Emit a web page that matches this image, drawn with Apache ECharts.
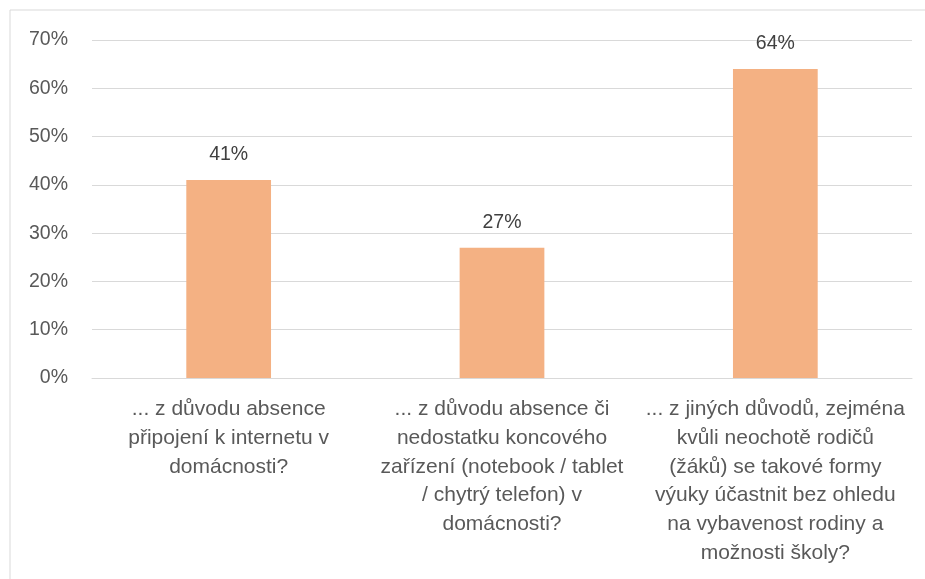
<!DOCTYPE html>
<html>
<head>
<meta charset="utf-8">
<script src="https://cdn.jsdelivr.net/npm/echarts@6/dist/echarts.min.js"></script>
<style>
html,body{margin:0;padding:0;background:#fff;}
#chart{width:925px;height:579px;}
</style>
</head>
<body>
<div id="chart"></div>
<script>
// kategorie (důvody) - zalomení řádků podle originálu
var categories = [
	"... z důvodu absence\npřipojení k internetu v\ndomácnosti?",
	"... z důvodu absence či\nnedostatku koncového\nzařízení (notebook / tablet\n/ chytrý telefon) v\ndomácnosti?",
	"... z jiných důvodů, zejména\nkvůli neochotě rodičů\n(žáků) se takové formy\nvýuky účastnit bez ohledu\nna vybavenost rodiny a\nmožnosti školy?"
];
// podíly v procentech
var values = [41, 27, 64];
// popisky osy Y
var yTicks = [0, 10, 20, 30, 40, 50, 60, 70];

var myChart = echarts.init(document.getElementById("chart"));
var font = "'Liberation Sans', Arial, sans-serif";

var option = {
	animation: false,
	graphic: [{
		type: "rect",
		shape: {x: 10, y: 10, width: 930, height: 590},
		style: {fill: "none", stroke: "#d9d9d9", lineWidth: 1}
	}],
	grid: {left: 92, right: 13, top: 40, bottom: 201, containLabel: false},
	xAxis: {
		type: "category",
		data: categories,
		axisLine: {show: true, lineStyle: {color: "#d9d9d9"}},
		axisTick: {show: false},
		axisLabel: {
			interval: 0,
			margin: 17,
			color: "#595959",
			fontFamily: font,
			fontSize: 21,
			lineHeight: 28.7,
			align: "center"
		}
	},
	yAxis: {
		type: "value",
		min: yTicks[0],
		max: yTicks[yTicks.length - 1],
		interval: 10,
		axisLine: {show: false},
		axisTick: {show: false},
		splitLine: {lineStyle: {color: "#d9d9d9"}},
		axisLabel: {
			margin: 24,
			color: "#595959",
			fontFamily: font,
			fontSize: 19.5,
			formatter: "{value}%"
		}
	},
	series: [{
		type: "bar",
		data: values,
		barWidth: "31%",
		itemStyle: {color: "#f4b183"},
		label: {
			show: true,
			position: "top",
			distance: 15,
			color: "#404040",
			fontFamily: font,
			fontSize: 19.5,
			formatter: "{c}%"
		}
	}]
};
myChart.setOption(option);
</script>
</body>
</html>
